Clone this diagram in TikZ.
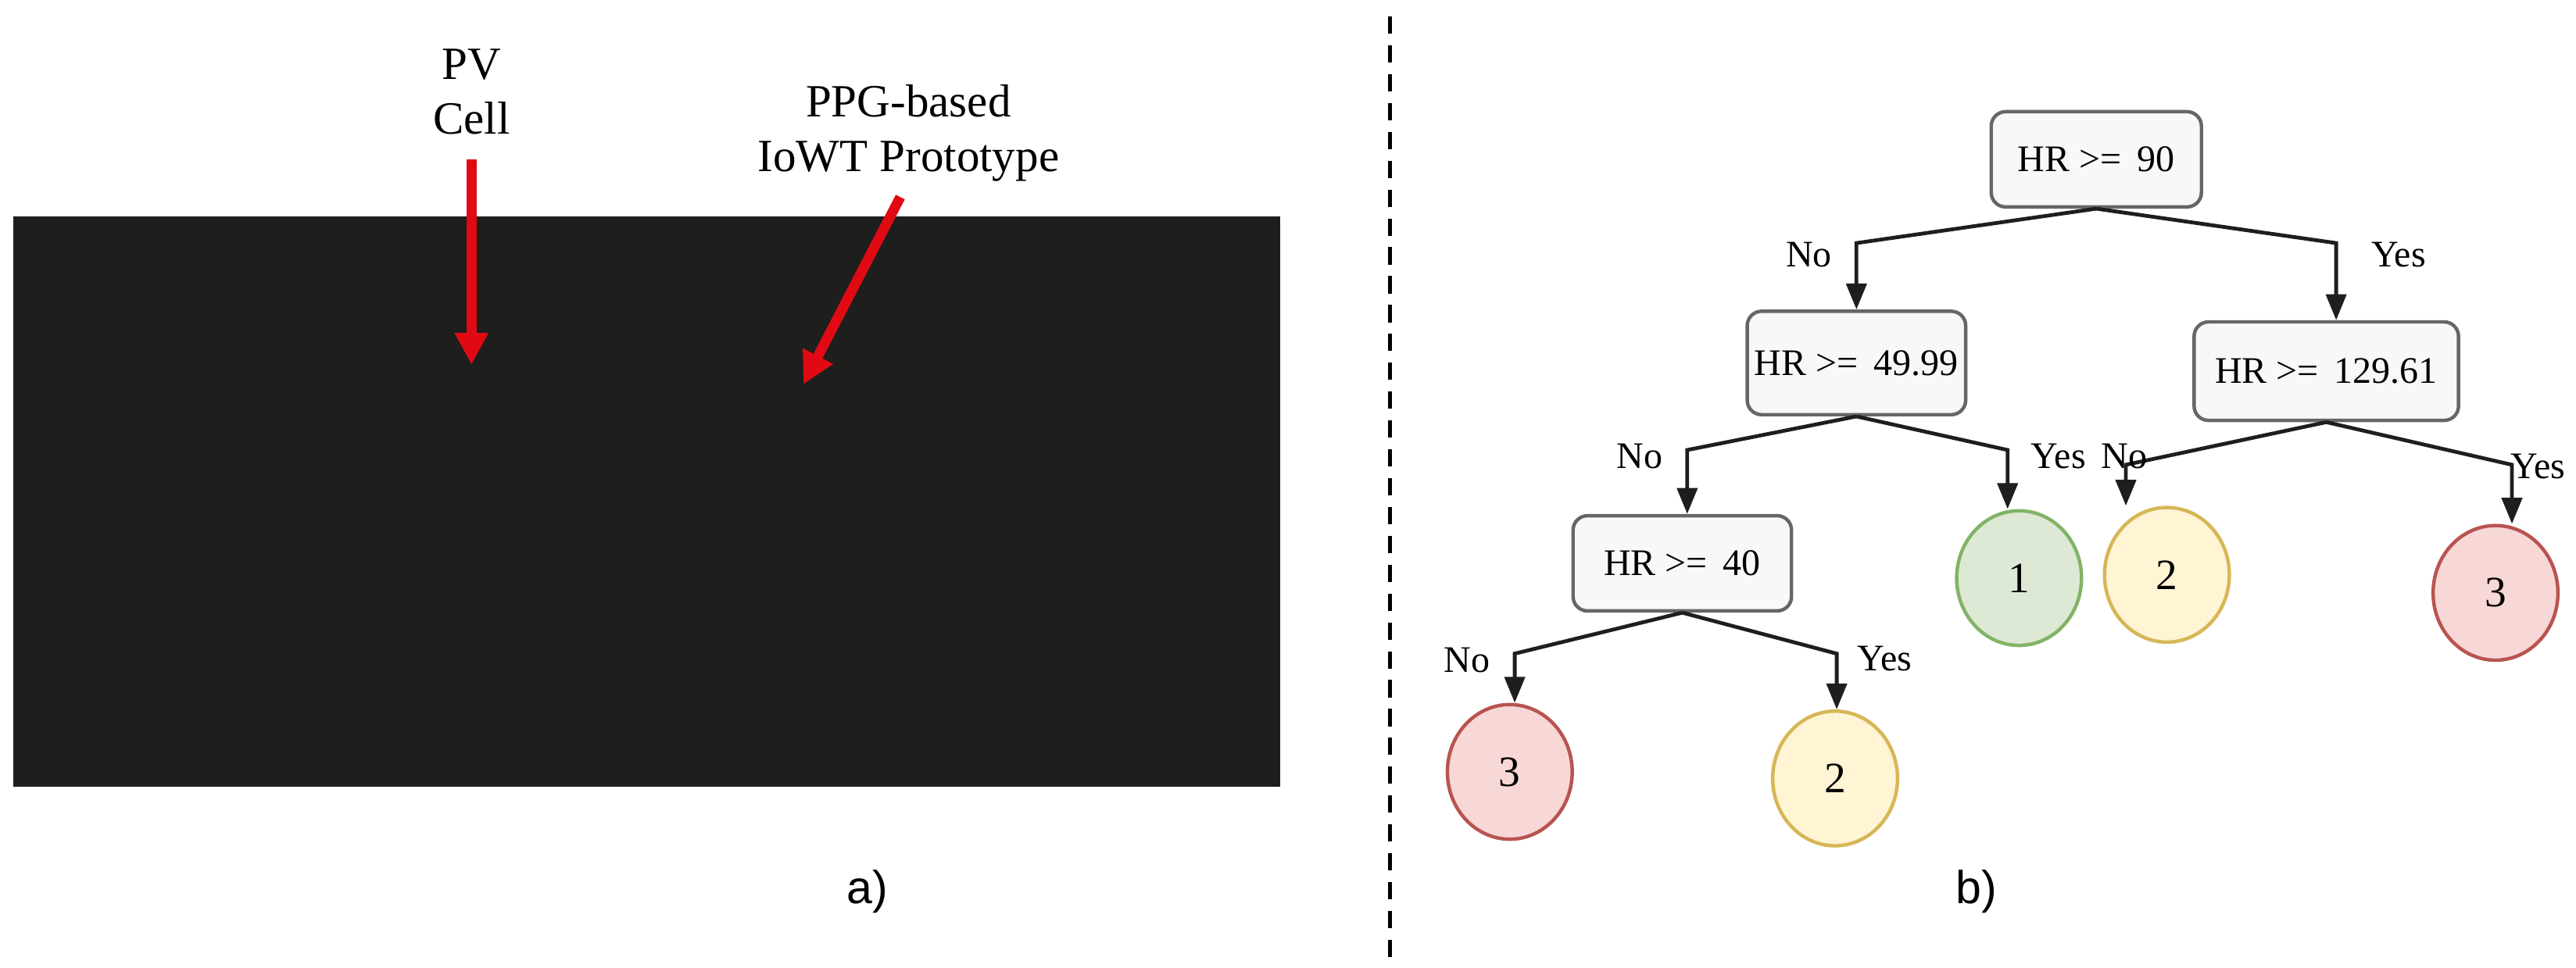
\documentclass[tikz,border=0pt]{standalone}
\usepackage{fontspec}
\setmainfont{Liberation Serif}
\setsansfont{Liberation Sans}
\usetikzlibrary{shapes.geometric,arrows.meta}
\definecolor{blk}{HTML}{1E1E1C}
\definecolor{boxfill}{HTML}{F8F8F8}
\definecolor{boxdraw}{HTML}{666666}
\definecolor{gfill}{HTML}{DDE9D5}\definecolor{gdraw}{HTML}{82B366}
\definecolor{yfill}{HTML}{FFF4D4}\definecolor{ydraw}{HTML}{D6B656}
\definecolor{rfill}{HTML}{F8D7D7}\definecolor{rdraw}{HTML}{B85450}
\definecolor{redarrow}{HTML}{E10A14}
\begin{document}
\begin{tikzpicture}[x=0.02cm,y=-0.02cm,
  testbox/.style={draw=boxdraw,fill=boxfill,rounded corners=5pt,line width=1.2pt,font=\fontsize{13}{15}\selectfont,inner sep=0pt},
  leaf/.style={ellipse,line width=1.2pt,minimum width=1.52cm,minimum height=1.64cm,font=\fontsize{15}{17}\selectfont,inner sep=0pt},
  gleaf/.style={leaf,draw=gdraw,fill=gfill},
  yleaf/.style={leaf,draw=ydraw,fill=yfill},
  rleaf/.style={leaf,draw=rdraw,fill=rfill},
  edge/.style={draw=blk,line width=1.3pt,-{Triangle[length=9pt,width=7pt]}},
  lbl/.style={font=\fontsize{13}{15}\selectfont},
  redarr/.style={draw=redarrow,line width=3.5pt,-{Triangle[length=11pt,width=11pt]}},
  captxt/.style={font=\fontsize{16}{19}\selectfont,align=center}]
\useasboundingbox (0,0) rectangle (1568,589);
% panel a
\fill[blk] (8,132) rectangle (779,479);
\node[captxt] (pv) at (287,56) {PV\\Cell};
\node[captxt] (ppg) at (553,81) {PPG-based\\IoWT Prototype};
\coordinate (pvs) at (287,97); \coordinate (pvt) at (287,222);
\coordinate (ps) at (548,120); \coordinate (pt) at (489,234);
\draw[redarr] (pvs) -- (pvt);
\draw[redarr] (ps) -- (pt);
\node[font=\sffamily\fontsize{16}{19}\selectfont] (la) at (528,543) {a)};
\coordinate (d1) at (846,10); \coordinate (d2) at (846,589);
\draw[line width=1.2pt,dash pattern=on 6pt off 4pt] (d1) -- (d2);
\node[font=\sffamily\fontsize{16}{19}\selectfont] (lb) at (1203,543) {b)};
% tree
\node[testbox,minimum width=2.56cm,minimum height=1.16cm] (r) at (1276,97) {HR >=\, 90};
\node[testbox,minimum width=2.66cm,minimum height=1.26cm] (n2) at (1130,221) {HR >=\, 49.99};
\node[testbox,minimum width=3.22cm,minimum height=1.2cm] (n3) at (1416,226) {HR >=\, 129.61};
\node[testbox,minimum width=2.66cm,minimum height=1.16cm] (n4) at (1024,343) {HR >=\, 40};
\node[gleaf] (c1) at (1229,352) {1};
\node[yleaf] (c2) at (1319,350) {2};
\node[rleaf] (c3) at (1519,361) {3};
\node[rleaf] (c4) at (919,470) {3};
\node[yleaf] (c5) at (1117,474) {2};
\coordinate (e1) at (1130,148); \coordinate (e2) at (1422,148);
\coordinate (e3) at (1027,274); \coordinate (e4) at (1222,274);
\coordinate (e5) at (1294,283); \coordinate (e6) at (1529,283);
\coordinate (e7) at (922,398); \coordinate (e8) at (1118,398);
\draw[edge] (r.south) -- (e1) -- (n2.north);
\draw[edge] (r.south) -- (e2) -- (e2 |- n3.north);
\draw[edge] (n2.south) -- (e3) -- (e3 |- n4.north);
\draw[edge] (n2.south) -- (e4) -- (e4 |- c1.north);
\draw[edge] (n3.south) -- (e5) -- (e5 |- c2.north);
\draw[edge] (n3.south) -- (e6) -- (e6 |- c3.north);
\draw[edge] (n4.south) -- (e7) -- (e7 |- c4.north);
\draw[edge] (n4.south) -- (e8) -- (e8 |- c5.north);
\node[lbl] (l1) at (1101,155) {No};
\node[lbl] (l2) at (1460,155) {Yes};
\node[lbl] (l3) at (998,278) {No};
\node[lbl] (l4) at (1253,278) {Yes};
\node[lbl] (l5) at (1293,278) {No};
\node[lbl] (l6) at (1545,284) {Yes};
\node[lbl] (l7) at (893,402) {No};
\node[lbl] (l8) at (1147,401) {Yes};
\end{tikzpicture}
\end{document}
